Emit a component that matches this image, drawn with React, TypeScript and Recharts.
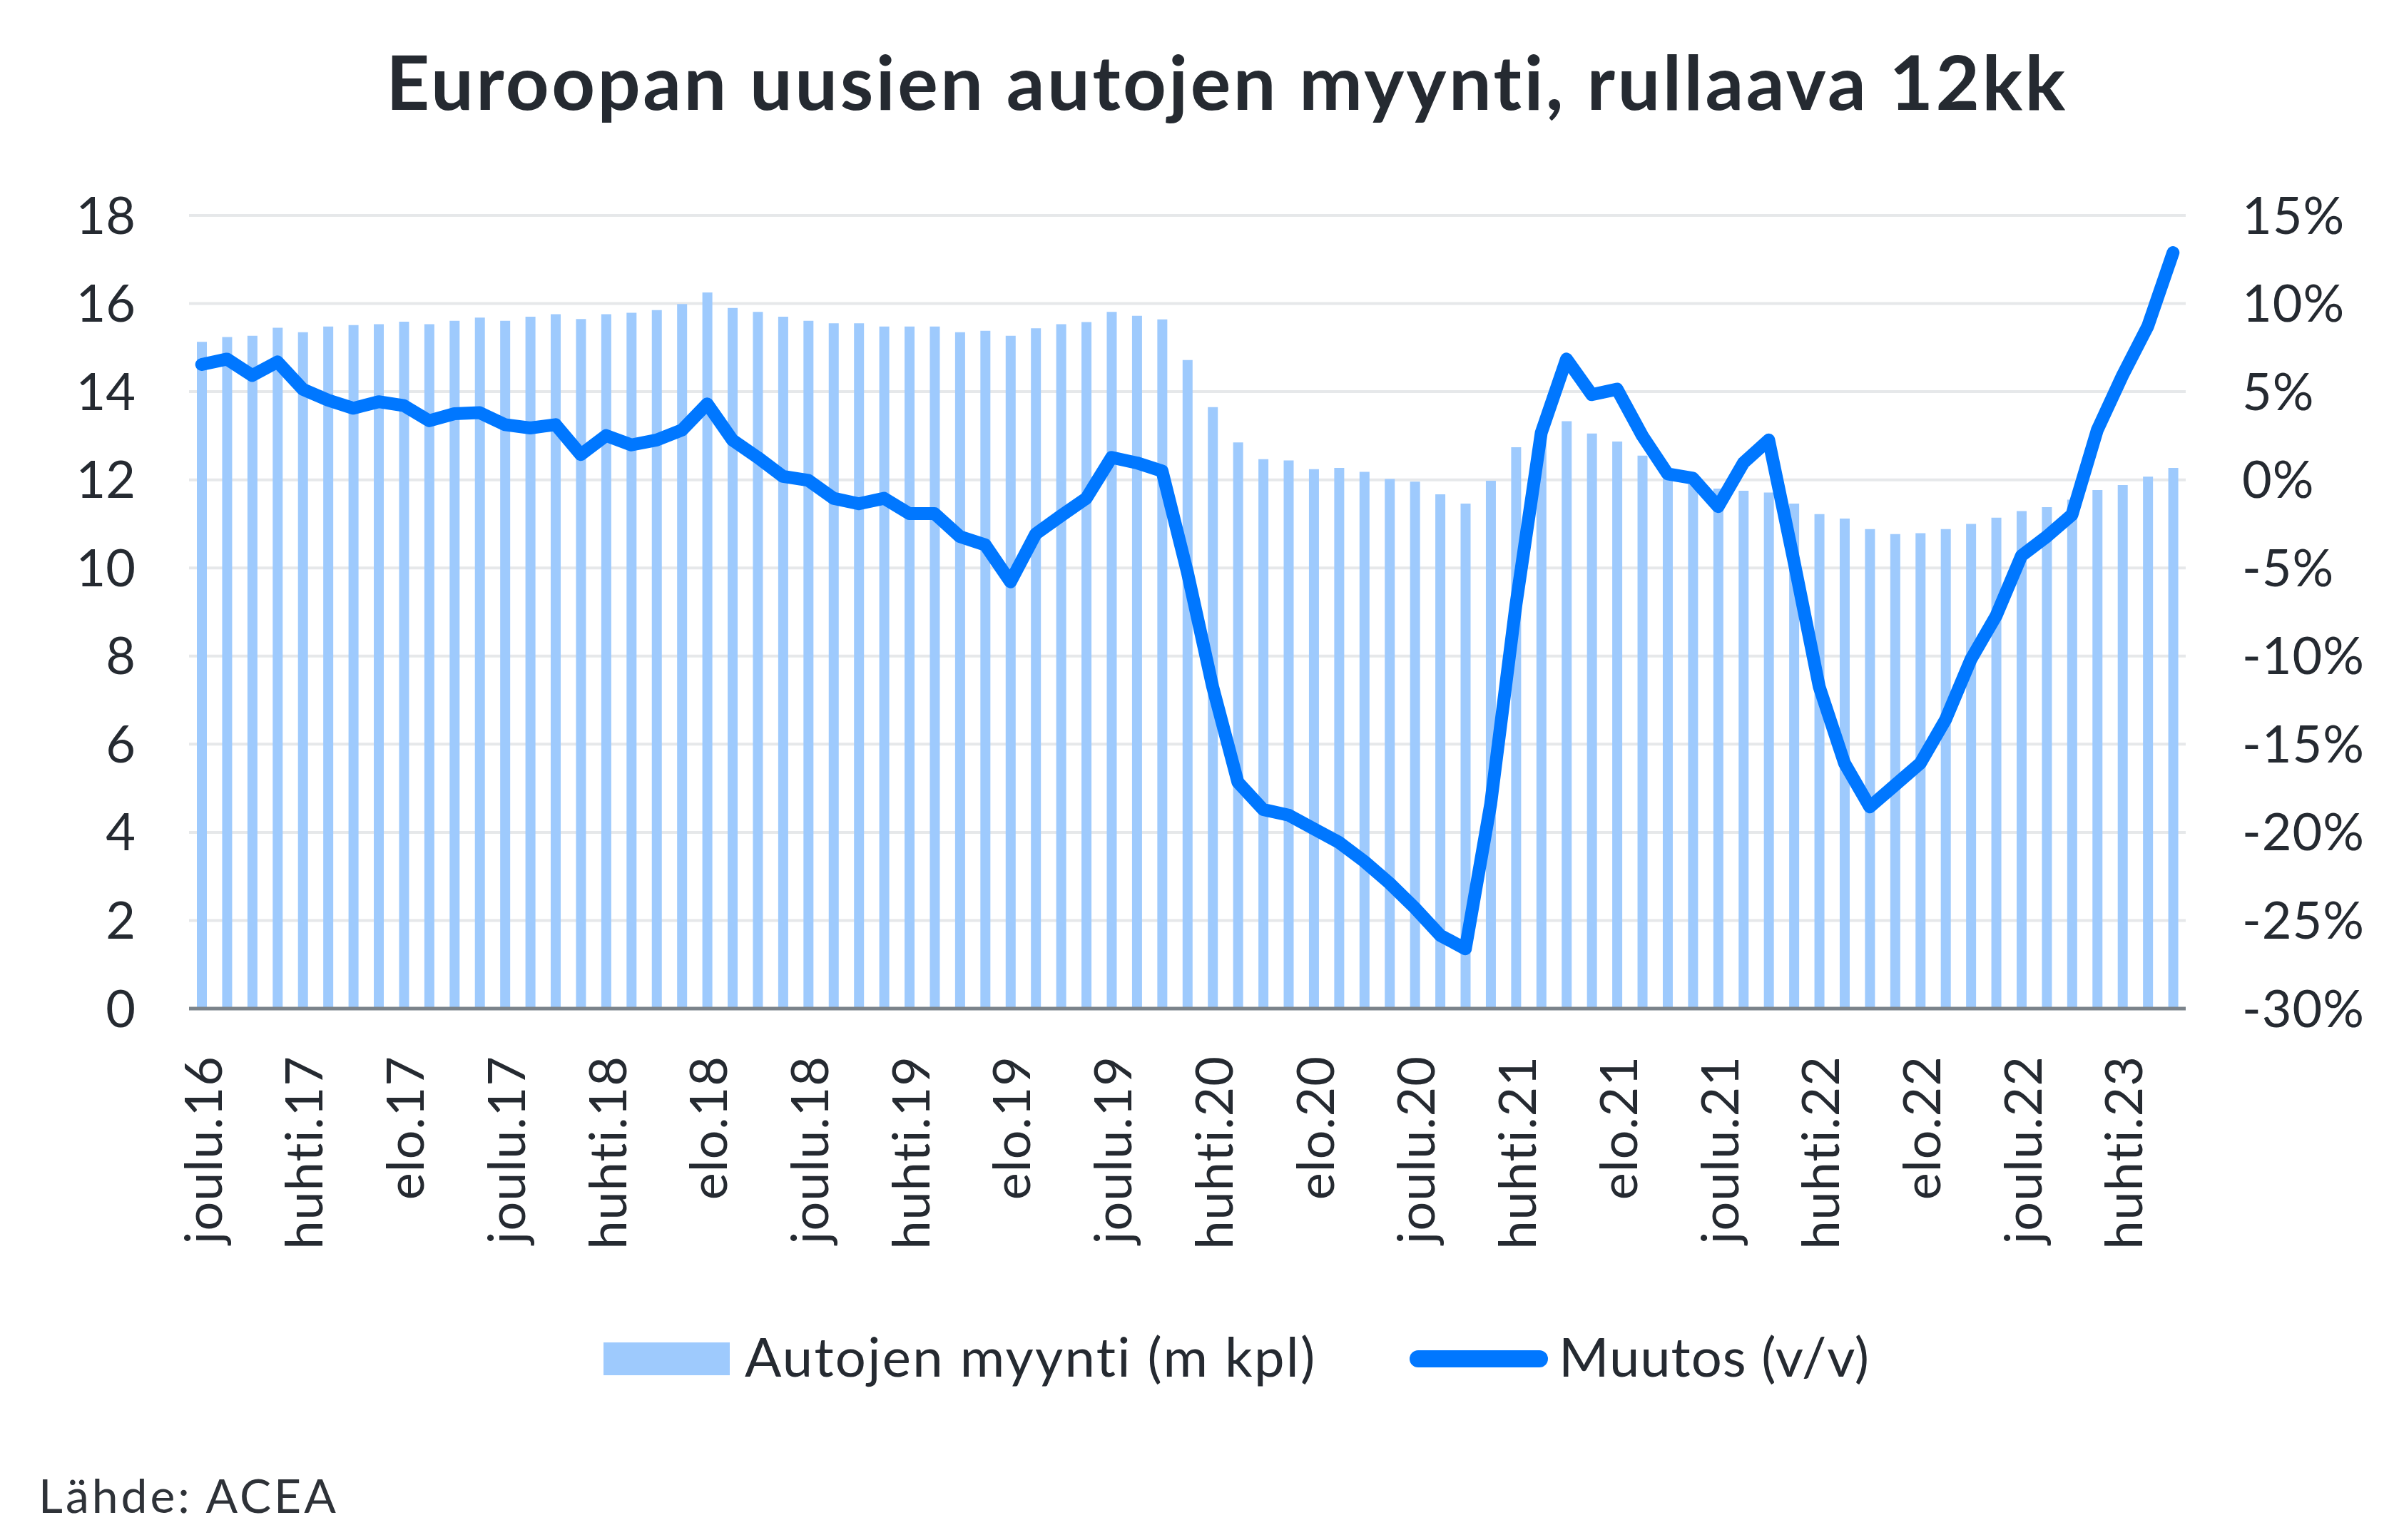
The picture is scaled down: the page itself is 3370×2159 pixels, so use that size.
import { ComposedChart, Bar, Line, XAxis, YAxis, CartesianGrid } from "recharts";

// Kuukausien nimet x-akselia varten
const monthNames = [
  "tammi", "helmi", "maalis", "huhti", "touko", "kesä",
  "heinä", "elo", "syys", "loka", "marras", "joulu",
];

// Autojen myynti, rullaava 12kk (milj. kpl), joulu.16 - kesä.23
const sales = [
  15.13, 15.24, 15.27, 15.45, 15.35, 15.48, 15.51, 15.53, 15.59, 15.53,
  15.61, 15.68, 15.61, 15.7, 15.76, 15.65, 15.76, 15.79, 15.85, 15.99,
  16.25, 15.9, 15.81, 15.7, 15.61, 15.55, 15.55, 15.48, 15.48, 15.48,
  15.35, 15.38, 15.27, 15.44, 15.53, 15.58, 15.81, 15.72, 15.64, 14.72,
  13.65, 12.85, 12.47, 12.44, 12.24, 12.27, 12.18, 12.02, 11.96, 11.67,
  11.46, 11.98, 12.74, 13.05, 13.33, 13.05, 12.87, 12.55, 12.03, 11.9,
  11.8, 11.75, 11.71, 11.46, 11.22, 11.12, 10.88, 10.77, 10.79, 10.88,
  11.0, 11.14, 11.29, 11.38, 11.55, 11.77, 11.88, 12.07, 12.27,
];

// Muutos (v/v), %
const change = [
  6.54, 6.85, 5.92, 6.69, 5.14, 4.52, 4.06, 4.43, 4.21, 3.35,
  3.75, 3.81, 3.13, 2.94, 3.13, 1.43, 2.51, 1.98, 2.26, 2.82,
  4.31, 2.26, 1.27, 0.19, -0.03, -1.05, -1.36, -1.05, -1.92, -1.92,
  -3.22, -3.69, -5.79, -3.07, -2.04, -1.05, 1.27, 0.96, 0.5, -5.24,
  -11.74, -17.16, -18.71, -19.02, -19.8, -20.57, -21.65, -22.89, -24.29, -25.84,
  -26.61, -18.4, -7.09, 2.66, 6.85, 4.83, 5.14, 2.5, 0.34, 0.09,
  -1.52, 0.96, 2.26, -4.62, -11.74, -16.08, -18.56, -17.32, -16.08, -13.6,
  -10.19, -7.71, -4.31, -3.22, -1.98, 2.82, 5.92, 8.71, 12.89,
];

const leftTicks = [0, 2, 4, 6, 8, 10, 12, 14, 16, 18];
const rightTicks = [-30, -25, -20, -15, -10, -5, 0, 5, 10, 15];

// alkaa joulukuusta 2016
const categories = sales.map((_, i) => {
  const m = (11 + i) % 12;
  const y = 16 + Math.floor((11 + i) / 12);
  return `${monthNames[m]}.${y}`;
});

const data = categories.map((month, i) => ({
  month,
  sales: sales[i],
  change: change[i],
}));

const FONT = "Lato, 'Open Sans', sans-serif";
const TEXT = "#252a31";
const BAR = "#9ecafd";
const LINE = "#0077ff";

function MonthTick(props: any) {
  const { x, y, payload } = props;
  return (
    <text
      x={x}
      y={y}
      transform={`rotate(-90 ${x} ${y})`}
      textAnchor="end"
      dominantBaseline="central"
      fontSize={72}
      fontFamily={FONT}
      letterSpacing={1}
      fill={TEXT}
    >
      {payload.value}
    </text>
  );
}

export default function App() {
  return (
    <div
      style={{
        position: "absolute",
        left: 0,
        top: 0,
        width: 3370,
        height: 2159,
        background: "#fff",
        overflow: "hidden",
      }}
    >
      <div style={{ position: "absolute", left: 0, top: 0 }}>
        <ComposedChart
          width={3370}
          height={1800}
          data={data}
          margin={{ top: 302, right: 0, left: 0, bottom: 0 }}
          barCategoryGap={0}
        >
          <CartesianGrid
            yAxisId="left"
            vertical={false}
            stroke="#e6e8ea"
            strokeWidth={4}
          />
          <XAxis
            dataKey="month"
            interval={3}
            height={386}
            tickLine={false}
            tickSize={0}
            tickMargin={66}
            axisLine={{ stroke: "#7b838a", strokeWidth: 5 }}
            tick={<MonthTick />}
          />
          <YAxis
            yAxisId="left"
            orientation="left"
            width={265}
            domain={[0, 18]}
            ticks={leftTicks}
            tickLine={false}
            axisLine={false}
            tickSize={0}
            tickMargin={75}
            tick={{ fontSize: 72, fill: TEXT, fontFamily: FONT }}
          />
          <YAxis
            yAxisId="right"
            orientation="right"
            width={306}
            domain={[-30, 15]}
            ticks={rightTicks}
            tickLine={false}
            axisLine={false}
            tickSize={0}
            tickMargin={79}
            tickFormatter={(v: number) => `${v}%`}
            tick={{ fontSize: 72, fill: TEXT, fontFamily: FONT, textAnchor: "start", letterSpacing: 1 }}
          />
          <Bar
            yAxisId="left"
            dataKey="sales"
            fill={BAR}
            barSize={14}
            isAnimationActive={false}
          />
          <Line
            yAxisId="right"
            dataKey="change"
            type="linear"
            stroke={LINE}
            strokeWidth={18}
            strokeLinejoin="round"
            strokeLinecap="round"
            dot={false}
            activeDot={false}
            isAnimationActive={false}
          />
        </ComposedChart>
      </div>

      <svg
        width={3370}
        height={2159}
        style={{ position: "absolute", left: 0, top: 0, pointerEvents: "none" }}
      >
        <text
          x={1720}
          y={154}
          textAnchor="middle"
          fontFamily={FONT}
          fontWeight={700}
          fontSize={106}
          letterSpacing={3.5}
          fill={TEXT}
        >
          Euroopan uusien autojen myynti, rullaava 12kk
        </text>

        {/* selite */}
        <rect x={846} y={1882} width={177} height={46} fill={BAR} />
        <text x={1044} y={1930} fontFamily={FONT} fontSize={76} letterSpacing={2.3} fill={TEXT}>
          Autojen myynti (m kpl)
        </text>
        <line
          x1={1988}
          y1={1905}
          x2={2158}
          y2={1905}
          stroke={LINE}
          strokeWidth={24}
          strokeLinecap="round"
        />
        <text x={2185} y={1930} fontFamily={FONT} fontSize={76} letterSpacing={1} fill={TEXT}>
          Muutos (v/v)
        </text>

        <text x={54} y={2121} fontFamily={FONT} fontSize={66} letterSpacing={4} fill="#2e3238">
          Lähde: ACEA
        </text>
      </svg>
    </div>
  );
}
